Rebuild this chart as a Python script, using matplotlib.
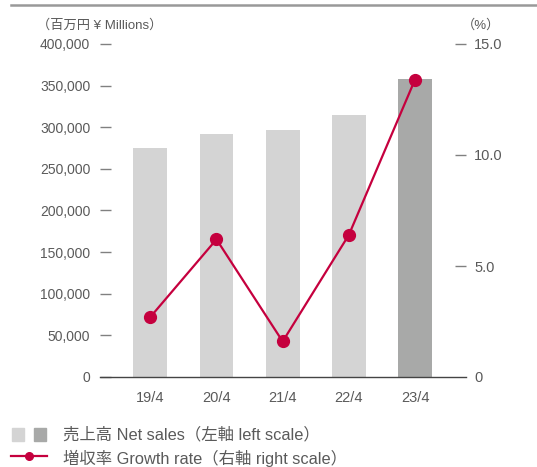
import numpy as np
import matplotlib
matplotlib.use("Agg")
import matplotlib.pyplot as plt
from matplotlib.patches import Rectangle
from matplotlib.lines import Line2D

plt.rcParams['font.family'] = ['Liberation Sans', 'Noto Sans CJK JP', 'DejaVu Sans']

# data
years = ['19/4', '20/4', '21/4', '22/4', '23/4']
net_sales = [275000, 292000, 297000, 315000, 358000]   # million yen
growth_rate = [2.7, 6.2, 1.6, 6.4, 13.4]              # %
left_ticks = [0, 50000, 100000, 150000, 200000, 250000, 300000, 350000, 400000]
right_ticks = [0, 5.0, 10.0, 15.0]

txt = '#5a5a5a'
light = '#d4d4d4'
dark = '#a8a9a8'
red = '#c5003e'

fig = plt.figure(figsize=(5.37, 4.67), dpi=100)
ax = fig.add_axes([100/537, 90/467, 366/537, 333/467])

x = np.arange(len(years))
colors = [light] * (len(years) - 1) + [dark]
ax.bar(x, net_sales, width=0.51, color=colors, zorder=2)
ax.set_xlim(-0.76, 4.77)
ax.set_ylim(0, 400000)

for s in ['top', 'right', 'left']:
    ax.spines[s].set_visible(False)
ax.spines['bottom'].set_color('#444444')
ax.spines['bottom'].set_linewidth(1.0)

ax.set_xticks(x)
ax.set_xticklabels(years, fontsize=10.5, color=txt)
ax.tick_params(axis='x', length=0, pad=10)

ax.set_yticks(left_ticks)
ax.set_yticklabels([f'{v:,}' for v in left_ticks], fontsize=10, color=txt)
ax.tick_params(axis='y', direction='in', length=8, width=1, color='#808080', pad=7)
ax.yaxis.get_major_ticks()[0].tick1line.set_visible(False)

ax2 = ax.twinx()
ax2.plot(x, growth_rate, color=red, lw=1.6, marker='o', markersize=8.5, zorder=3)
ax2.set_ylim(0, 15)
for s in ['top', 'right', 'left', 'bottom']:
    ax2.spines[s].set_visible(False)
ax2.set_yticks(right_ticks)
ax2.set_yticklabels(['0', '5.0', '10.0', '15.0'], fontsize=10.5, color=txt)
ax2.tick_params(axis='y', direction='in', length=8, width=1, color='#808080', pad=6)
ax2.yaxis.get_major_ticks()[0].tick2line.set_visible(False)

# unit labels
fig.text(37/537, 1 - 25/467, '（百万円 ¥ Millions）', fontsize=9.5, color=txt, va='center', ha='left')
fig.text(481/537, 1 - 25/467, '（%）', fontsize=9.5, color=txt, va='center', ha='center')

# top rule
fig.add_artist(Line2D([11/537, 1], [1 - 4.5/467] * 2, color='#999999', lw=1.8))

# legend
fig.add_artist(Rectangle((12/537, 1 - 441/467), 12/537, 13/467, color=light, transform=fig.transFigure))
fig.add_artist(Rectangle((34/537, 1 - 441/467), 12/537, 13/467, color=dark, transform=fig.transFigure))
fig.add_artist(Line2D([11/537, 47/537], [1 - 456/467] * 2, color=red, lw=1.6))
fig.add_artist(Line2D([29/537], [1 - 456/467], color=red, marker='o', markersize=5.5))
fig.text(63/537, 1 - 435/467, '売上高 Net sales（左軸 left scale）', fontsize=11.8, color=txt, va='center')
fig.text(63/537, 1 - 458/467, '増収率 Growth rate（右軸 right scale）', fontsize=11.8, color=txt, va='center')

fig.savefig('out.png', dpi=100)
